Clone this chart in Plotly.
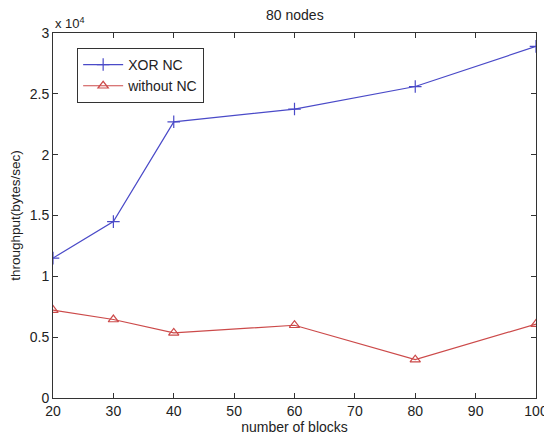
import plotly.graph_objects as go

blocks = [20, 30, 40, 60, 80, 100]
xor_nc = [11500, 14500, 22700, 23750, 25600, 28900]
without_nc = [7230, 6450, 5350, 5980, 3150, 6080]
x_ticks = [20, 30, 40, 50, 60, 70, 80, 90, 100]
y_tickvals = [0, 5000, 10000, 15000, 20000, 25000, 30000]
y_ticktext = ["0", "0.5", "1", "1.5", "2", "2.5", "3"]

FONT = "Liberation Sans, Arial"

fig = go.Figure()
fig.add_trace(go.Scatter(
    x=blocks, y=xor_nc, name="XOR NC", mode="lines+markers",
    line=dict(color="#4a4ac8", width=1.2),
    marker=dict(symbol="cross-thin", size=9, line=dict(color="#4a4ac8", width=1.2)),
))
fig.add_trace(go.Scatter(
    x=blocks, y=without_nc, name="without NC", mode="lines+markers",
    line=dict(color="#cc4a4a", width=1.2),
    marker=dict(symbol="triangle-up-open", size=9, color="#cc4a4a", line=dict(color="#cc4a4a", width=1.2)),
))

axis_common = dict(
    showgrid=False, zeroline=False, showline=True, linecolor="#333", linewidth=1,
    mirror="ticks", ticks="inside", ticklen=5, tickcolor="#333",
    tickfont=dict(family=FONT, size=14, color="#222"),
    ticklabeloverflow="allow",
)
fig.update_xaxes(range=[20, 100], tickvals=x_ticks, **axis_common,
                 title=dict(text="number of blocks", font=dict(family=FONT, size=14, color="#222"), standoff=0))
fig.update_yaxes(range=[0, 30000], tickvals=y_tickvals, ticktext=y_ticktext, **axis_common,
                 title=dict(text="throughput(bytes/sec)", font=dict(family=FONT, size=13.5, color="#222"), standoff=6))

fig.update_layout(
    width=544, height=437,
    margin=dict(l=53, r=8, t=33, b=39, autoexpand=False),
    paper_bgcolor="white", plot_bgcolor="white",
    title=dict(text="80 nodes", x=0.542, xanchor="center", y=0.966, yanchor="middle",
               font=dict(family=FONT, size=14, color="#222")),
    legend=dict(x=0.05, y=0.959, xanchor="left", yanchor="top",
                bordercolor="#333", borderwidth=1, bgcolor="white",
                font=dict(family=FONT, size=14, color="#222"),
                tracegroupgap=0, itemwidth=40),
    showlegend=True,
    annotations=[dict(text="x 10<sup>4</sup>", xref="paper", yref="paper", x=0, y=1.0,
                      xanchor="left", yanchor="bottom", showarrow=False,
                      font=dict(family=FONT, size=13, color="#222"))],
)

fig.write_html("out.html")
